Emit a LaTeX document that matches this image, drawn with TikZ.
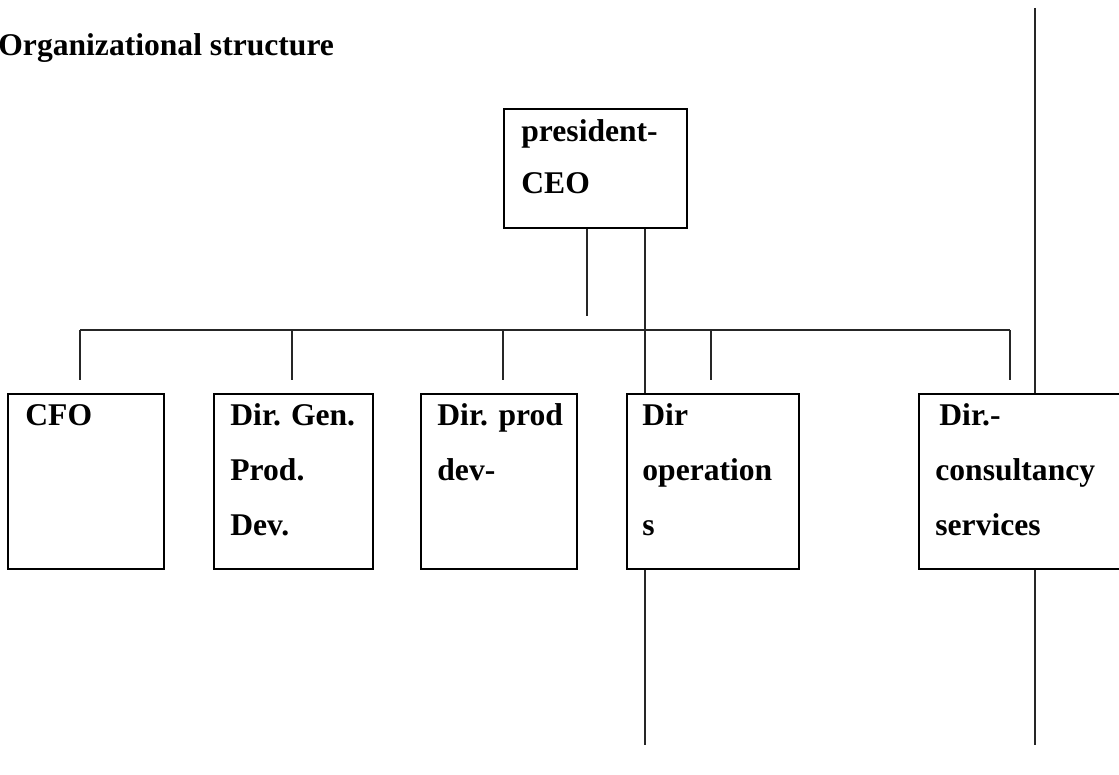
\documentclass[tikz,border=0pt]{standalone}
\usepackage{fontspec}
\setmainfont{Liberation Serif}
\begin{document}
\begin{tikzpicture}[x=0.5pt,y=-0.5pt,
  box/.style={draw, line width=0.7pt, inner sep=0pt, rectangle},
  lbl/.style={anchor=base west, inner sep=0pt, font=\bfseries\fontsize{15.8}{19}\selectfont},
  conn/.style={draw, line width=0.55pt, black!85}]
\path[use as bounding box, clip] (0,0) rectangle (1119,775);
% title
\node[lbl] (title) at (-2,56) {Organizational structure};
% boxes
\node[box, minimum width=91.5pt, minimum height=59.5pt] (ceo) at (595.5,168.5) {};
\node[box, minimum width=78pt, minimum height=87.5pt] (cfo) at (86,481.5) {};
\node[box, minimum width=79.5pt, minimum height=87.5pt] (gen) at (293.5,481.5) {};
\node[box, minimum width=78pt, minimum height=87.5pt] (prod) at (499,481.5) {};
\node[box, minimum width=86pt, minimum height=87.5pt] (ops) at (713,481.5) {};
\node[box, minimum width=105.5pt, minimum height=87.5pt] (cons) at (1024.5,481.5) {};
% labels
\node[lbl] (ceo1) at (521,142) {president-};
\node[lbl] (ceo2) at (521,194) {CEO};
\node[lbl] (cfo1) at (25,425) {CFO};
\node[lbl] (gen1) at (230,425) {Dir.\hspace{5pt}Gen.};
\node[lbl] (gen2) at (230,480) {Prod.};
\node[lbl] (gen3) at (230,535) {Dev.};
\node[lbl] (prod1) at (437,425) {Dir. prod};
\node[lbl] (prod2) at (437,480) {dev-};
\node[lbl] (ops1) at (642,425) {Dir};
\node[lbl] (ops2) at (642,480) {operation};
\node[lbl] (ops3) at (642,535) {s};
\node[lbl] (cons1) at (939,425) {Dir.-};
\node[lbl] (cons2) at (935,480) {consultancy};
\node[lbl] (cons3) at (935,535) {services};
% coordinates
\coordinate (c1) at (587,316);
\coordinate (hl) at (80,330);
\coordinate (hr) at (1010,330);
\coordinate (d1) at (80,380);
\coordinate (d2) at (292,380);
\coordinate (d3) at (503,380);
\coordinate (d4) at (711,380);
\coordinate (d5) at (1010,380);
\coordinate (opsend) at (645,745);
\coordinate (rtop) at (1035,8);
\coordinate (rend) at (1035,745);
% connectors
\draw[conn] (ceo.south -| c1) -- (c1);
\draw[conn] (ceo.south -| opsend) -- (ops.north -| opsend);
\draw[conn] (ops.south -| opsend) -- (opsend);
\draw[conn] (hl) -- (hr);
\draw[conn] (hl) -- (d1);
\draw[conn] (d2 |- hl) -- (d2);
\draw[conn] (d3 |- hl) -- (d3);
\draw[conn] (d4 |- hl) -- (d4);
\draw[conn] (hr) -- (d5);
\draw[conn] (rtop) -- (cons.north -| rtop);
\draw[conn] (cons.south -| rend) -- (rend);
\end{tikzpicture}
\end{document}
